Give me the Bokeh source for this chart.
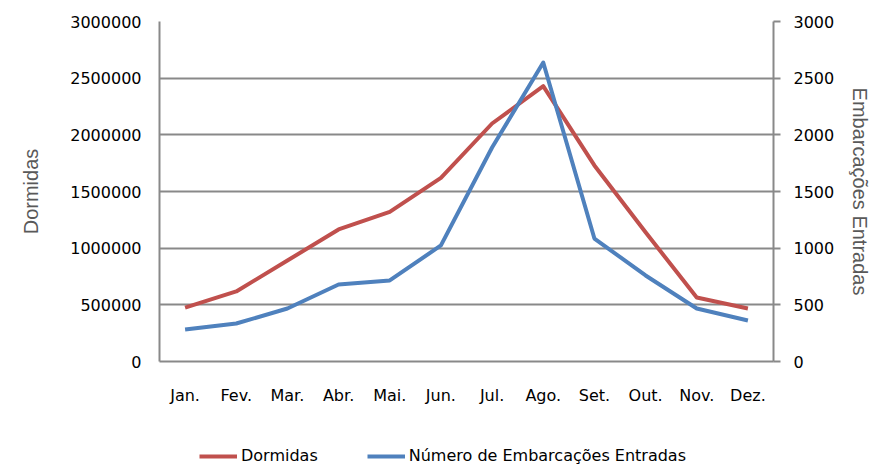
from bokeh.plotting import figure
from bokeh.layouts import column
from bokeh.models import (Range1d, LinearAxis, Legend, LegendItem, FixedTicker,
                          NumeralTickFormatter, FactorRange)
from bokeh.embed import file_html
from bokeh.resources import INLINE

months = ["Jan.", "Fev.", "Mar.", "Abr.", "Mai.", "Jun.", "Jul.", "Ago.", "Set.", "Out.", "Nov.", "Dez."]
dormidas = [476000, 618000, 891000, 1165000, 1320000, 1620000, 2100000, 2430000, 1730000, 1140000, 565000, 468000]
embarcacoes = [282, 335, 468, 679, 715, 1024, 1888, 2638, 1085, 759, 468, 362]
left_ticks = [0, 500000, 1000000, 1500000, 2000000, 2500000, 3000000]
right_ticks = [0, 500, 1000, 1500, 2000, 2500, 3000]
series_names = ["Dormidas", "Número de Embarcações Entradas"]
series_colors = ["#C0504D", "#4F81BD"]

GRID = "#898989"
TICK_FONT = "DejaVu Sans"
TITLE_FONT = "Liberation Sans"

p = figure(x_range=FactorRange(*months), y_range=Range1d(0, 3000000),
           width=874, height=420, output_backend="svg", toolbar_location=None,
           min_border_left=159, min_border_right=99, min_border_top=21, min_border_bottom=59,
           y_axis_label="Dormidas")
p.outline_line_color = None
p.extra_y_ranges = {"y2": Range1d(0, 3000)}

# lines
p.line(x=months, y=dormidas, line_color=series_colors[0], line_width=4, line_join="round")
p.line(x=months, y=embarcacoes, line_color=series_colors[1], line_width=4, line_join="round",
       y_range_name="y2")

# grid
p.xgrid.grid_line_color = None
p.ygrid.grid_line_color = GRID
p.ygrid.grid_line_width = 2

# left axis
ya = p.yaxis[0]
ya.ticker = FixedTicker(ticks=left_ticks)
ya.formatter = NumeralTickFormatter(format="0")
ya.axis_line_color = GRID
ya.axis_line_width = 2
ya.major_tick_out = 0
ya.major_tick_in = 0
ya.minor_tick_line_color = None
ya.major_label_standoff = 18
ya.major_label_text_font = TICK_FONT
ya.major_label_text_font_size = "16px"
ya.major_label_text_color = "#000000"
ya.axis_label_text_font = TITLE_FONT
ya.axis_label_text_font_size = "20px"
ya.axis_label_text_font_style = "normal"
ya.axis_label_text_color = "#595959"
ya.axis_label_standoff = 25

# right axis
ra = LinearAxis(y_range_name="y2", axis_label="Embarcações Entradas")
ra.ticker = FixedTicker(ticks=right_ticks)
ra.axis_line_color = GRID
ra.axis_line_width = 2
ra.major_tick_line_color = GRID
ra.major_tick_line_width = 2
ra.major_tick_out = 7
ra.major_tick_in = 0
ra.minor_tick_line_color = None
ra.major_label_standoff = 13
ra.major_label_text_font = TICK_FONT
ra.major_label_text_font_size = "16px"
ra.major_label_text_color = "#000000"
ra.axis_label_text_font = TITLE_FONT
ra.axis_label_text_font_size = "20px"
ra.axis_label_text_font_style = "normal"
ra.axis_label_text_color = "#595959"
ra.axis_label_standoff = 12
p.add_layout(ra, "right")

# bottom axis
xa = p.xaxis[0]
xa.axis_line_color = GRID
xa.axis_line_width = 2
xa.major_tick_line_color = None
xa.major_tick_out = 0
xa.major_tick_in = 0
xa.minor_tick_line_color = None
xa.major_label_standoff = 24
xa.major_label_text_font = TICK_FONT
xa.major_label_text_font_size = "16px"
xa.major_label_text_color = "#000000"

# legend strip below the chart (series drawn out of view, only their legend shows)
lg = figure(width=874, height=46, output_backend="svg", toolbar_location=None,
            x_range=p.x_range, y_range=Range1d(-2, -1),
            x_axis_location=None, y_axis_location=None, min_border=0)
lg.outline_line_color = None
lg.grid.visible = False
items = []
for name, color, vals in zip(series_names, series_colors, [dormidas, embarcacoes]):
    r = lg.line(x=months, y=vals, line_color=color, line_width=4)
    items.append(LegendItem(label=name, renderers=[r]))

legend = Legend(items=items, location=(40, 1), orientation="horizontal",
                border_line_alpha=0, background_fill_alpha=0, padding=0, margin=0,
                spacing=49, glyph_width=38, glyph_height=16, label_height=16, label_standoff=4,
                label_text_font=TICK_FONT, label_text_font_size="16px",
                label_text_color="#000000")
lg.add_layout(legend, "center")

layout = column(p, lg, spacing=0)
open("out.html", "w").write(file_html(layout, INLINE))
